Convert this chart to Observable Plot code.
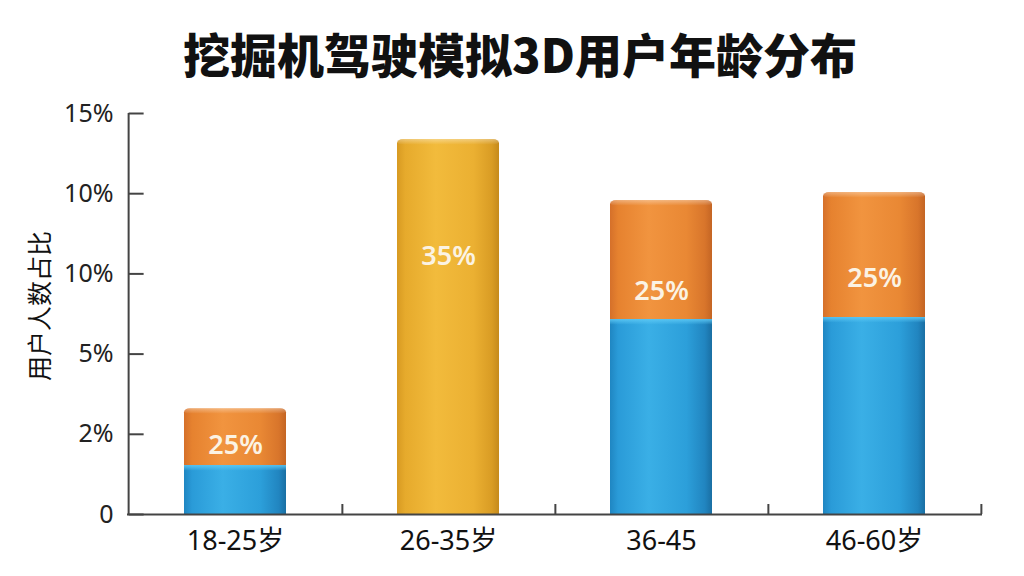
<!DOCTYPE html>
<html>
<head>
<meta charset="utf-8">
<script src="https://cdn.jsdelivr.net/npm/d3@7"></script>
<script src="https://cdn.jsdelivr.net/npm/@observablehq/plot@0.6"></script>
<style>
  html, body { margin: 0; padding: 0; background: #fff; }
  body { width: 1024px; height: 576px; overflow: hidden; font-family: "Noto Sans", "Noto Sans CJK SC", sans-serif; }
  #title { height: 90px; display: flex; align-items: center; justify-content: center; padding-left: 16px; padding-top: 14px; box-sizing: border-box;
    font-family: "Noto Sans CJK SC", sans-serif; font-weight: 900; font-size: 47px; color: #111; }
  #chart svg { display: block; }
  #chart svg [aria-label="x-axis"] text, #chart svg [aria-label="x-axis tick label"] text { font-size: 27px; fill: #111; }
  #chart svg [aria-label="y-axis"] text, #chart svg [aria-label="y-axis tick label"] text { font-size: 25px; fill: #222; }
</style>
</head>
<body>
<div id="title">挖掘机驾驶模拟3D用户年龄分布</div>
<div id="chart"></div>
<script>
// ---- data (values in axis units: one unit per labelled tick) ----
const categories = ["18-25岁", "26-35岁", "36-45", "46-60岁"];
const lowerValues = [0.61, 0, 2.43, 2.456];          // blue lower segment
const upperValues = [0.71, 4.675, 1.485, 1.559];     // upper segment (orange / gold)
const upperSeries = ["orange", "gold", "orange", "orange"];
const barLabels = ["25%", "35%", "25%", "25%"];
const labelAt = [0.86, 3.22, 2.78, 2.94];
const yTicks = [0, 1, 2, 3, 4, 5];
const yTickLabels = ["0", "2%", "5%", "10%", "10%", "15%"];
const yTitle = "用户人数占比";

const rows = categories.map((c, i) => ({
  cat: c,
  lower: lowerValues[i],
  total: lowerValues[i] + upperValues[i],
  series: upperSeries[i],
  label: barLabels[i],
  labelY: labelAt[i]
}));
const fillFor = {orange: "url(#gOrange)", gold: "url(#gGold)"};

const font = "\"Noto Sans\", \"Noto Sans CJK SC\", sans-serif";
const halfStep = (1024 - 127 - 42) / categories.length / 2;   // pixel half-width of a category slot

// tick mark pointing right from the y axis
const tickRight = {draw(ctx) { ctx.moveTo(0, 0); ctx.lineTo(15, 0); }};

const plot = Plot.plot({
  width: 1024,
  height: 484,
  marginTop: 23,
  marginBottom: 60,
  marginLeft: 127,
  marginRight: 42,
  style: {fontFamily: font, color: "#333", background: "transparent", fontSize: "25px"},
  x: {domain: categories, paddingInner: 0.52, paddingOuter: 0.26, label: null, tickSize: 0, tickPadding: 16},
  y: {domain: [0, 5], ticks: yTicks, tickFormat: i => yTickLabels[i], tickSize: 0, tickPadding: 14, label: null},
  marks: [
    ...["orange", "gold"].map(s => Plot.barY(rows.filter(d => d.series === s), {
      x: "cat", y1: 0, y2: "total", fill: fillFor[s], rx: 6, ry: 4
    })),
    ...["orange", "gold"].map(s => Plot.barY(rows.filter(d => d.series === s), {
      x: "cat", y1: 0, y2: d => d.total - 0.1, fill: fillFor[s]
    })),
    Plot.barY(rows, {x: "cat", y1: d => d.total - 0.07, y2: d => d.total, fill: "url(#gRim)", rx: 6, ry: 3}),
    Plot.barY(rows.filter(d => d.lower > 0), {x: "cat", y1: 0, y2: "lower", fill: "url(#gBlue)"}),
    Plot.barY(rows.filter(d => d.lower > 0), {x: "cat", y1: d => d.lower - 0.07, y2: "lower", fill: "url(#gBlueRim)"}),
    Plot.text(rows, {x: "cat", y: "labelY", text: "label", fill: "#fbf3e4", fontSize: 27, fontWeight: 600}),
    // y axis title
    Plot.text([yTitle], {frameAnchor: "left", textAnchor: "middle", dx: -87, dy: -8, rotate: -90, fontSize: 25, fill: "#111"}),
    // axis lines and tick marks
    Plot.ruleY([0], {stroke: "#444", strokeWidth: 2}),
    Plot.ruleX([categories[0]], {y1: 0, y2: 5, dx: -halfStep, stroke: "#444", strokeWidth: 2}),
    Plot.dot(yTicks, {x: () => categories[0], y: d => d, dx: -halfStep, symbol: tickRight, fill: "none", stroke: "#444", strokeWidth: 2}),
    Plot.ruleX(categories, {x: d => d, y1: 0, y2: 0.125, dx: halfStep, stroke: "#444", strokeWidth: 2})
  ]
});

const defs = d3.select(plot).insert("defs", ":first-child");
function hGrad(id, stops) {
  const g = defs.append("linearGradient").attr("id", id).attr("x1", "0").attr("x2", "1").attr("y1", "0").attr("y2", "0");
  stops.forEach(([o, c]) => g.append("stop").attr("offset", o).attr("stop-color", c));
}
hGrad("gBlue", [[0, "#1f86c2"], [0.08, "#2a9bd8"], [0.38, "#3aafe6"], [0.75, "#2c9fda"], [0.93, "#2185c0"], [1, "#1a6fa3"]]);
hGrad("gOrange", [[0, "#d5702a"], [0.08, "#e6822f"], [0.38, "#f1943f"], [0.75, "#e98834"], [0.93, "#d8752b"], [1, "#c46524"]]);
hGrad("gGold", [[0, "#d79a22"], [0.08, "#e6aa2c"], [0.38, "#f2bb3c"], [0.75, "#ebb032"], [0.93, "#d99c24"], [1, "#c58a1c"]]);
const rim = defs.append("linearGradient").attr("id", "gRim").attr("x1", 0).attr("x2", 0).attr("y1", 0).attr("y2", 1);
rim.append("stop").attr("offset", 0).attr("stop-color", "#fff").attr("stop-opacity", 0.35);
rim.append("stop").attr("offset", 1).attr("stop-color", "#fff").attr("stop-opacity", 0);
const brim = defs.append("linearGradient").attr("id", "gBlueRim").attr("x1", 0).attr("x2", 0).attr("y1", 0).attr("y2", 1);
brim.append("stop").attr("offset", 0).attr("stop-color", "#5cc8f5").attr("stop-opacity", 0.9);
brim.append("stop").attr("offset", 1).attr("stop-color", "#5cc8f5").attr("stop-opacity", 0);

document.getElementById("chart").appendChild(plot);
</script>
</body>
</html>
